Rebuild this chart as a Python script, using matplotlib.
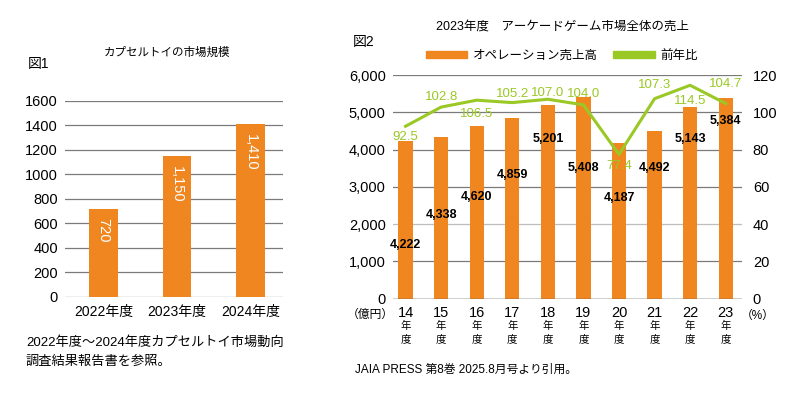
import matplotlib
matplotlib.use("Agg")
import matplotlib.pyplot as plt
import numpy as np
from matplotlib.patches import Patch

plt.rcParams['font.family'] = ['Liberation Sans', 'Noto Sans CJK JP', 'DejaVu Sans']

# ---------------- data ----------------
capsule_years = ["2022年度", "2023年度", "2024年度"]
capsule_values = [720, 1150, 1410]
capsule_labels = ["720", "1,150", "1,410"]
capsule_yticks = [0, 200, 400, 600, 800, 1000, 1200, 1400, 1600]

arcade_years = ["14", "15", "16", "17", "18", "19", "20", "21", "22", "23"]
arcade_sales = [4222, 4338, 4620, 4859, 5201, 5408, 4187, 4492, 5143, 5384]
arcade_yoy = [92.5, 102.8, 106.5, 105.2, 107.0, 104.0, 77.4, 107.3, 114.5, 104.7]
sales_label_y = [1440, 2240, 2730, 3320, 4280, 3510, 2710, 3510, 4280, 4770]
yoy_label_y = [87, 108, 99, 110, 110.5, 110, 71, 114.5, 106, 115]
left_ticks = [0, 1000, 2000, 3000, 4000, 5000, 6000]
right_ticks = [0, 20, 40, 60, 80, 100, 120]

ORANGE = '#EF8620'
GREEN = '#9AC824'
GRID = '#7a7a7a'

fig = plt.figure(figsize=(8.0, 3.98), dpi=100)

# ---------------- chart 1 ----------------
ax1 = fig.add_axes([0.08125, 0.2545, 0.2721, 0.4925])
x1 = np.arange(len(capsule_years))
ax1.bar(x1, capsule_values, width=0.386, color=ORANGE, zorder=3)
ax1.set_xlim(-0.525, 2.44)
ax1.set_ylim(0, 1600)
ax1.set_yticks(capsule_yticks)
ax1.set_yticklabels([str(v) for v in capsule_yticks], fontsize=10.5)
ax1.set_xticks(x1)
ax1.set_xticklabels(capsule_years, fontsize=10)
ax1.tick_params(length=0, pad=5)
ax1.tick_params(axis='x', pad=6)
for s in ax1.spines.values():
    s.set_visible(False)
for v in capsule_yticks:
    ax1.axhline(v, color=GRID, lw=0.9, zorder=1)
for xi, v, lab in zip(x1, capsule_values, capsule_labels):
    ax1.annotate(lab, (xi, v), xytext=(0, -7), textcoords='offset points',
                 rotation=270, ha='center', va='top', color='white', fontsize=10.5, zorder=4)

fig.text(166.7 / 800, 1 - 53.3 / 398, "カプセルトイの市場規模", ha='center', va='center', fontsize=8.3)
fig.text(28 / 800, 1 - 64 / 398, "図1", ha='left', va='center', fontsize=10)
fig.text(26 / 800, 1 - 342.7 / 398, "2022年度～2024年度カプセルトイ市場動向", ha='left', va='center', fontsize=9.5)
fig.text(26 / 800, 1 - 361.7 / 398, "調査結果報告書を参照。", ha='left', va='center', fontsize=9.5)

# ---------------- chart 2 ----------------
ax2 = fig.add_axes([0.4909, 0.2495, 0.43625, 0.562])
x2 = np.arange(len(arcade_years))
ax2.bar(x2, arcade_sales, width=0.4, color=ORANGE, zorder=3)
ax2.set_xlim(-0.36, 9.45)
ax2.set_ylim(0, 6000)
ax2.set_yticks(left_ticks)
ax2.set_yticklabels([f"{v:,}" for v in left_ticks], fontsize=10.5)
ax2.set_xticks([])
ax2.tick_params(length=0, pad=5)
for s in ax2.spines.values():
    s.set_visible(False)
for v in left_ticks:
    ax2.axhline(v, color=('#bdbdbd' if v == 2000 else GRID), lw=0.9, zorder=1)
ax2.axhline(0, color='#555555', lw=1.0, zorder=4)

ax3 = ax2.twinx()
ax3.set_ylim(0, 120)
ax3.set_yticks(right_ticks)
ax3.set_yticklabels([str(v) for v in right_ticks], fontsize=10.5)
ax3.tick_params(length=0, pad=8)
for s in ax3.spines.values():
    s.set_visible(False)
ax3.plot(x2, arcade_yoy, color=GREEN, lw=2.2, zorder=5)

for xi, v, ly in zip(x2, arcade_sales, sales_label_y):
    ax3.text(xi, ly * 120 / 6000, f"{v:,}", ha='center', va='center', fontsize=9,
             fontweight='bold', color='black', zorder=6)
for xi, v, ly in zip(x2, arcade_yoy, yoy_label_y):
    ax3.text(xi, ly, f"{v:.1f}", ha='center', va='center', fontsize=9.5,
             color=GREEN, zorder=6)

xt = ax2.get_xaxis_transform()
for xi, yl in zip(x2, arcade_years):
    ax2.text(xi, -0.066, yl, transform=xt, ha='center', va='center', fontsize=10.5)
    ax2.text(xi, -0.12, "年", transform=xt, ha='center', va='center', fontsize=7.5)
    ax2.text(xi, -0.18, "度", transform=xt, ha='center', va='center', fontsize=7.5)
fig.text(370 / 800, 1 - 315 / 398, "（億円）", ha='center', va='center', fontsize=8.5)
fig.text(758 / 800, 1 - 316 / 398, "（%）", ha='center', va='center', fontsize=8.5)

fig.text(562 / 800, 1 - 27 / 398, "2023年度　アーケードゲーム市場全体の売上", ha='center', va='center', fontsize=9)
fig.text(353 / 800, 1 - 42 / 398, "図2", ha='left', va='center', fontsize=10)

# legend
handles = [Patch(color=ORANGE, label="オペレーション売上高"),
           Patch(color=GREEN, label="前年比")]
fig.legend(handles=handles, loc='center', bbox_to_anchor=(562 / 800, 1 - 56 / 398), ncol=2,
           frameon=False, fontsize=9, handlelength=3.3, handleheight=0.55,
           columnspacing=1.2, handletextpad=0.5)

fig.text(355 / 800, 1 - 370 / 398, "JAIA PRESS 第8巻 2025.8月号より引用。", ha='left', va='center', fontsize=8.5)

fig.savefig("out.png", dpi=100, facecolor='white')
